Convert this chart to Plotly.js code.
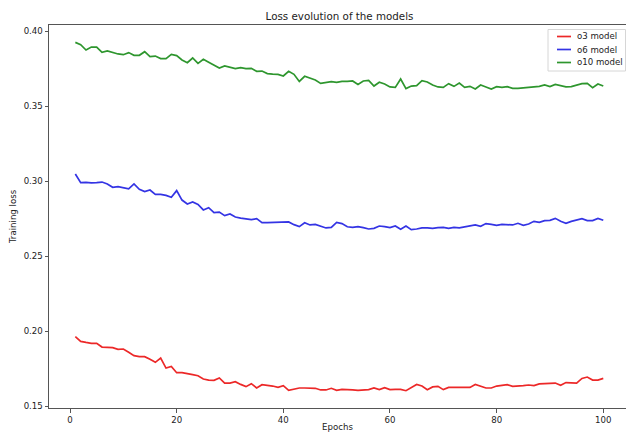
<!DOCTYPE html>
<html>
<head>
<meta charset="utf-8">
<script src="https://cdn.plot.ly/plotly-3.0.1.min.js"></script>
<style>html,body{margin:0;padding:0;background:#fff;}#chart{width:626px;height:432px;}</style>
</head>
<body>
<div id="chart"></div>
<script>
var epochs = [1,2,3,4,5,6,7,8,9,10,11,12,13,14,15,16,17,18,19,20,21,22,23,24,25,26,27,28,29,30,31,32,33,34,35,36,37,38,39,40,41,42,43,44,45,46,47,48,49,50,51,52,53,54,55,56,57,58,59,60,61,62,63,64,65,66,67,68,69,70,71,72,73,74,75,76,77,78,79,80,81,82,83,84,85,86,87,88,89,90,91,92,93,94,95,96,97,98,99,100];

var o3Loss = [0.1962,0.1931,0.1924,0.1918,0.1918,0.1893,0.1891,0.1889,0.1878,0.1880,
0.1858,0.1836,0.1829,0.1829,0.1811,0.1791,0.1820,0.1753,0.1764,0.1722,
0.1722,0.1718,0.1709,0.1702,0.1680,0.1673,0.1671,0.1687,0.1653,0.1653,
0.1662,0.1644,0.1629,0.1649,0.1620,0.1642,0.1638,0.1633,0.1624,0.1636,
0.1604,0.1613,0.1620,0.1620,0.1620,0.1618,0.1607,0.1607,0.1618,0.1604,
0.1611,0.1611,0.1607,0.1604,0.1609,0.1609,0.1620,0.1609,0.1622,0.1609,
0.1611,0.1611,0.1602,0.1622,0.1644,0.1633,0.1609,0.1627,0.1631,0.1609,
0.1624,0.1624,0.1624,0.1624,0.1624,0.1644,0.1631,0.1620,0.1620,0.1633,
0.1638,0.1642,0.1631,0.1636,0.1636,0.1640,0.1636,0.1647,0.1651,0.1651,
0.1653,0.1638,0.1656,0.1653,0.1653,0.1684,0.1693,0.1673,0.1673,0.1684];

var o6Loss = [0.3047,0.2989,0.2991,0.2987,0.2989,0.2993,0.2980,0.2958,0.2962,0.2956,
0.2947,0.2980,0.2944,0.2929,0.2940,0.2911,0.2911,0.2904,0.2891,0.2936,
0.2873,0.2847,0.2860,0.2844,0.2807,0.2822,0.2789,0.2793,0.2769,0.2780,
0.2760,0.2753,0.2747,0.2742,0.2749,0.2722,0.2722,0.2724,0.2727,0.2724,
0.2727,0.2709,0.2696,0.2722,0.2707,0.2711,0.2698,0.2687,0.2691,0.2724,
0.2716,0.2695,0.2691,0.2696,0.2689,0.2680,0.2684,0.2700,0.2696,0.2689,
0.2700,0.2678,0.2700,0.2676,0.2680,0.2687,0.2687,0.2684,0.2689,0.2691,
0.2684,0.2691,0.2687,0.2693,0.2700,0.2707,0.2698,0.2716,0.2711,0.2704,
0.2711,0.2709,0.2707,0.2718,0.2704,0.2713,0.2731,0.2724,0.2736,0.2738,
0.2751,0.2731,0.2718,0.2731,0.2740,0.2749,0.2736,0.2736,0.2751,0.2738];

var o10Loss = [0.3924,0.3909,0.3873,0.3893,0.3893,0.3858,0.3867,0.3856,0.3847,0.3842,
0.3856,0.3838,0.3838,0.3862,0.3829,0.3833,0.3816,0.3816,0.3844,0.3836,
0.3807,0.3789,0.3820,0.3784,0.3811,0.3791,0.3773,0.3753,0.3767,0.3756,
0.3749,0.3756,0.3749,0.3751,0.3731,0.3733,0.3716,0.3713,0.3711,0.3700,
0.3731,0.3711,0.3664,0.3698,0.3687,0.3673,0.3651,0.3658,0.3662,0.3658,
0.3664,0.3664,0.3667,0.3644,0.3667,0.3671,0.3633,0.3658,0.3647,0.3627,
0.3624,0.3680,0.3616,0.3633,0.3636,0.3669,0.3660,0.3640,0.3627,0.3624,
0.3649,0.3631,0.3653,0.3624,0.3631,0.3613,0.3640,0.3627,0.3613,0.3629,
0.3624,0.3629,0.3618,0.3618,0.3620,0.3622,0.3624,0.3631,0.3640,0.3629,
0.3644,0.3636,0.3627,0.3629,0.3638,0.3649,0.3651,0.3622,0.3647,0.3633];

var seriesNames = ["o3 model", "o6 model", "o10 model"];
var seriesColors = ["rgb(236,40,40)", "rgb(52,52,228)", "rgb(46,150,46)"];
var seriesValues = [o3Loss, o6Loss, o10Loss];

var xTickVals = [0, 20, 40, 60, 80, 100];
var yTickVals = [0.15, 0.20, 0.25, 0.30, 0.35, 0.40];

var chartTitle = "Loss evolution of the models";
var xTitle = "Epochs";
var yTitle = "Training loss";

// plot-area geometry (pixels)
var W = 626, H = 432, L = 49, R = 0, T = 25, B = 24;
var pw = W - L - R, ph = H - T - B;
function px2x(px) { return (px - L) / pw; }
function py2y(py) { return (H - B - py) / ph; }

var traces = seriesNames.map(function (n, i) {
  return {
    x: epochs, y: seriesValues[i], type: "scatter", mode: "lines", name: n,
    line: {color: seriesColors[i], width: 1.7}, showlegend: false
  };
});

// legend drawn manually to match the compact matplotlib legend
var shapes = [{
  type: "rect", xref: "paper", yref: "paper",
  x0: px2x(548), x1: px2x(625.5), y0: py2y(71), y1: py2y(29.5),
  line: {color: "#d6d6d6", width: 1}, fillcolor: "rgba(255,255,255,0.85)", layer: "above"
}];
var annotations = [];
var entryY = [36.5, 49.5, 62.5];
seriesNames.forEach(function (n, i) {
  shapes.push({
    type: "line", xref: "paper", yref: "paper",
    x0: px2x(557), x1: px2x(571), y0: py2y(entryY[i]), y1: py2y(entryY[i]),
    line: {color: seriesColors[i], width: 1.7}, layer: "above"
  });
  annotations.push({
    xref: "paper", yref: "paper", x: px2x(575), y: py2y(entryY[i]),
    xanchor: "left", yanchor: "middle", showarrow: false, text: n,
    font: {family: "DejaVu Sans", size: 8.6, color: "#222"}
  });
});

var axisCommon = {
  showgrid: false, zeroline: false, showline: true, linecolor: "#555", linewidth: 1,
  ticks: "outside", ticklen: 3.5, tickwidth: 1, tickcolor: "#555",
  tickfont: {family: "DejaVu Sans", size: 8.6, color: "#222"}
};

var layout = {
  width: W, height: H,
  margin: {l: L, r: R, t: T, b: B, pad: 0},
  paper_bgcolor: "#fff", plot_bgcolor: "#fff",
  showlegend: false,
  title: {
    text: chartTitle, font: {family: "DejaVu Sans", size: 10.3, color: "#222"},
    xref: "paper", x: px2x(339.5), xanchor: "center",
    yref: "container", y: 1 - 16 / H, yanchor: "middle"
  },
  xaxis: Object.assign({}, axisCommon, {
    range: [-3.94, 104.26], tickmode: "array", tickvals: xTickVals,
    ticktext: xTickVals.map(String), mirror: true,
    title: {text: xTitle, font: {family: "DejaVu Sans", size: 8.6, color: "#222"}, standoff: 7}
  }),
  yaxis: Object.assign({}, axisCommon, {
    range: [0.14867, 0.404], tickmode: "array", tickvals: yTickVals,
    ticktext: yTickVals.map(function (v) { return v.toFixed(2); }),
    title: {text: yTitle, font: {family: "DejaVu Sans", size: 8.6, color: "#222"}, standoff: 5}
  }),
  shapes: shapes, annotations: annotations
};

Plotly.newPlot("chart", traces, layout, {displayModeBar: false, staticPlot: true});
</script>
</body>
</html>
